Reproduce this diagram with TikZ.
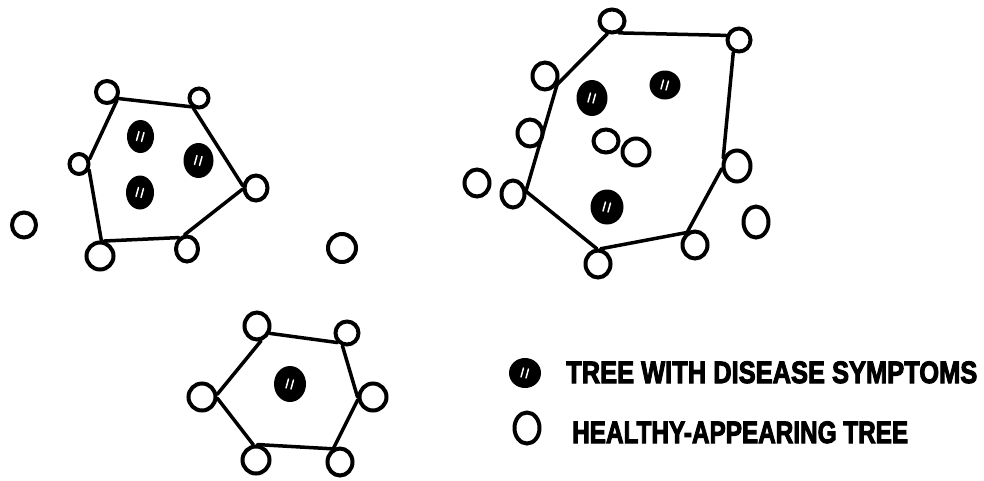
\documentclass[tikz,border=0pt]{standalone}
\usepackage{fontspec}
\setmainfont{Liberation Sans}
\newfontfamily\heavy[FakeBold=3.5]{Liberation Sans Bold}
\usetikzlibrary{shapes.geometric}
\tikzset{
  tree/.style={draw, ellipse, line width=4pt, inner sep=0pt, fill=white},
  sick/.style={fill=black, ellipse, inner sep=0pt,
    path picture={
      \draw[white, line width=1.5pt, line cap=round]
        ([shift={(-4,4)}]path picture bounding box.center) -- ++(2.5,-9)
        ([shift={(1,5)}]path picture bounding box.center) -- ++(2.5,-9);}},
  edge/.style={line width=3.5pt, line cap=round},
  lbl/.style={anchor=south west, inner sep=0pt, font=\heavy}
}
\newcommand{\tr}[5]{\node[tree, minimum width=#4, minimum height=#5] (#1) at (#2,#3) {};}
\newcommand{\sk}[5]{\node[sick, minimum width=#4, minimum height=#5] (#1) at (#2,#3) {};}
\begin{document}
\begin{tikzpicture}[x=1pt, y=-1pt]
\useasboundingbox[fill=white] (0,0) rectangle (984,480);
% ---- left cluster ----
\tr{L1}{107}{92}{22}{22}
\tr{L2}{199}{98}{19}{19}
\tr{L3}{79}{164}{19}{20}
\tr{L4}{256}{188}{23}{25}
\tr{L5}{100}{256}{27}{27}
\tr{L6}{187}{249}{22}{25}
\tr{LI1}{24}{225}{24}{25}
\tr{LI2}{342}{248}{28}{28}
\sk{D1}{140.5}{136.5}{27}{33}
\sk{D2}{198.5}{160.5}{30}{35}
\sk{D3}{140}{192.5}{28}{34}
\draw[edge] (L1.-30) -- (L2.-130);
\draw[edge] (L2.-120) -- (L4.170);
\draw[edge] (L4.185) -- (L6.100);
\draw[edge] (L6.125) -- (L5.75);
\draw[edge] (L5.85) -- (L3.-30);
\draw[edge] (L3.25) -- (L1.-40);
% ---- right cluster ----
\tr{R1}{612}{21}{25}{23}
\tr{R2}{739}{40}{23}{23}
\tr{R3}{545}{76}{25}{27}
\tr{R4}{530}{133}{25}{27}
\tr{R5}{513}{194}{23}{27}
\tr{RI1}{477}{183}{25}{27}
\tr{R6}{737}{166}{27}{31}
\tr{RI2}{756}{222}{25}{31}
\tr{R7}{695}{245}{25}{27}
\tr{R8}{598}{264}{25}{27}
\tr{RO1}{606}{141}{25}{23}
\tr{RO2}{636}{152}{27}{27}
\sk{RD1}{592}{98}{31}{36}
\sk{RD2}{665}{85}{31}{29}
\sk{RD3}{607}{207}{33}{35}
\draw[edge] (R3.-35) -- (R1.-110);
\draw[edge] (R1.-60) -- (R2.160);
\draw[edge] (R2.-115) -- (R6.150);
\draw[edge] (R6.190) -- (R7.120);
\draw[edge] (R7.125) -- (R8.80);
\draw[edge] (R8.95) -- (R5.10);
\draw[edge] (R5.15) -- (R3.-35);
% ---- bottom cluster ----
\tr{B1}{257}{326}{25}{27}
\tr{B2}{347}{333}{23}{23}
\tr{B3}{202}{397}{27}{27}
\tr{B4}{373}{397}{27}{27}
\tr{B5}{256}{460}{27}{27}
\tr{B6}{340}{462}{25}{27}
\sk{BD}{290}{384}{32}{36}
\draw[edge] (B1.-30) -- (B2.-135);
\draw[edge] (B2.-110) -- (B4.180);
\draw[edge] (B4.190) -- (B6.115);
\draw[edge] (B6.120) -- (B5.85);
\draw[edge] (B5.100) -- (B3.-5);
\draw[edge] (B3.10) -- (B1.-75);
% ---- legend ----
\sk{KD}{525}{373}{32}{30}
\tr{KH}{527}{428}{25}{31}
\node[lbl] (T1) at (566,383.5) {\resizebox{411pt}{21.6pt}{TREE WITH DISEASE SYMPTOMS}};
\node[lbl] (T2) at (572,443.5) {\resizebox{336pt}{21.6pt}{HEALTHY-APPEARING TREE}};
\end{tikzpicture}
\end{document}
